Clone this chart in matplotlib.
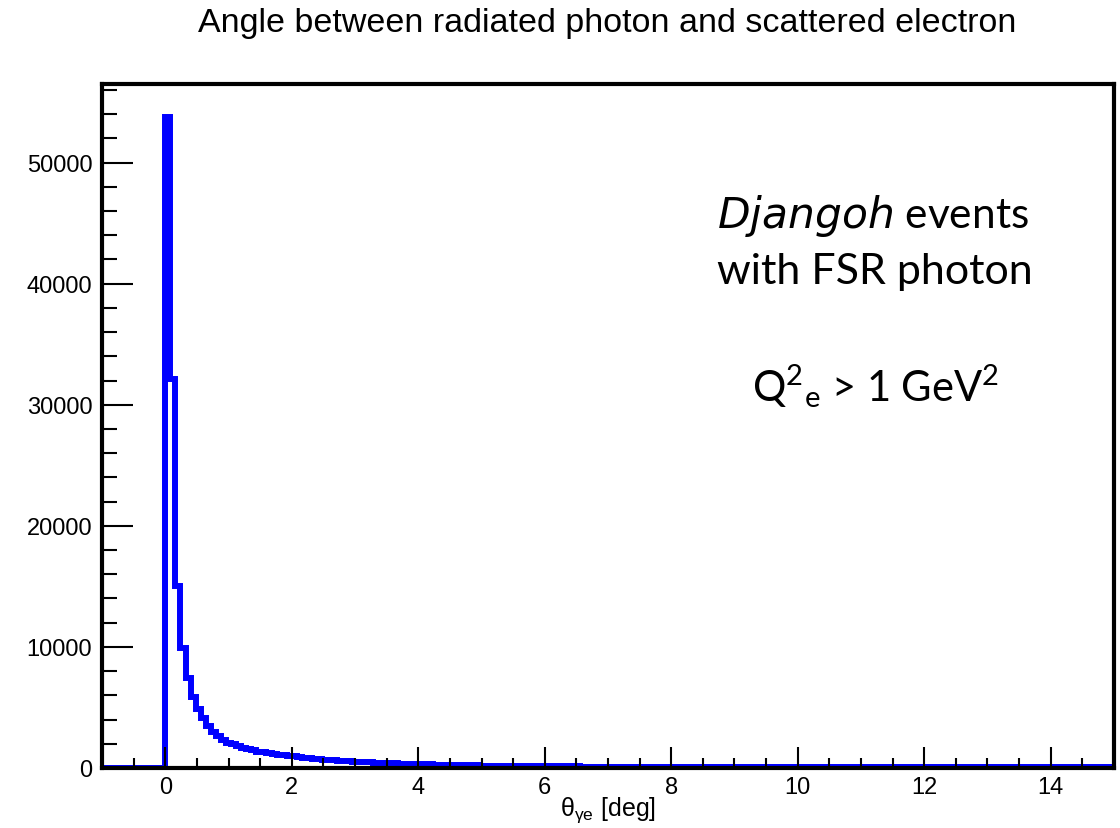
import matplotlib
matplotlib.use('Agg')
import matplotlib.pyplot as plt
import numpy as np
from matplotlib.ticker import MultipleLocator

# bin contents, 0.08 deg wide bins starting at 0
bin_width = 0.08
counts = [
    53800, 32100, 15000, 9950, 7400, 5900, 4850, 4100, 3500, 3000,
    2650, 2350, 2100, 1950, 1800, 1680, 1560, 1450, 1360, 1280,
    1210, 1150, 1100, 1050, 1010,
    960, 910, 860, 815, 775, 735, 700, 665, 630, 600, 570, 545, 520,
    500, 480, 460, 440, 420, 405, 390, 375, 360, 345, 330, 320,
    310, 300, 290, 280, 270, 260, 250, 240, 232, 225, 218, 210, 204,
    198, 192, 186, 180, 175, 170, 165, 160, 156, 152, 148, 144, 140,
    137, 134, 131, 128, 126, 123, 120, 118, 115, 113, 111, 109,
    107, 105, 103, 101, 99, 97, 95, 94, 92, 91, 89, 88, 86,
    85, 84, 83, 82, 81, 80, 79, 78, 77, 76,
    75, 75, 74, 73, 72, 72, 71, 70, 70, 69,
    68, 68, 67, 66, 66, 65, 65, 64, 64, 63,
    63, 62, 62, 61, 61, 60, 60, 60, 59, 59,
    58, 58, 58, 57, 57, 57, 56, 56, 56, 55,
    55, 55, 54, 54, 54, 54, 53, 53, 53, 52,
    52, 52, 52, 51, 51, 51, 51, 50, 50, 50,
    50, 49, 49, 49, 49, 48, 48, 48, 48, 48,
    47, 47, 47, 47, 46, 46, 46,
]

title = 'Angle between radiated photon and scattered electron'
xlabel = r'$\mathregular{θ_{γe}}$ [deg]'

# empty region below zero, then the filled bins
edges = np.concatenate([[-1.0], np.arange(len(counts) + 1) * bin_width])
values = np.concatenate([[0], counts])

fig = plt.figure(figsize=(11.2, 8.29), dpi=100)
ax = fig.add_axes([0.0911, 0.0724, 0.9035, 0.8251])

ax.stairs(values, edges, baseline=None, color='#0000ff', linewidth=4.3)

ax.set_xlim(-1, 15)
ax.set_ylim(0, 1.05 * max(counts))

ax.xaxis.set_major_locator(MultipleLocator(2))
ax.xaxis.set_minor_locator(MultipleLocator(0.5))
ax.yaxis.set_major_locator(MultipleLocator(10000))
ax.yaxis.set_minor_locator(MultipleLocator(2000))

ax.tick_params(axis='both', which='both', direction='in', color='black',
               width=1.5, top=False, right=False)
ax.tick_params(axis='y', which='major', length=22, pad=7, labelsize=17)
ax.tick_params(axis='y', which='minor', length=11)
ax.tick_params(axis='x', which='major', length=15, pad=6, labelsize=17)
ax.tick_params(axis='x', which='minor', length=7.5)
for lab in ax.get_xticklabels() + ax.get_yticklabels():
    lab.set_fontfamily('Liberation Sans')

for sp in ax.spines.values():
    sp.set_linewidth(3)
    sp.set_color('black')

ax.set_xlabel(xlabel, fontsize=18, family='Liberation Sans', labelpad=0)
ax.xaxis.set_label_coords(0.5, -0.039)

fig.text(0.5424, 0.972, title, ha='center', va='center',
         fontsize=24.5, family='Liberation Sans')

ax.text(0.762, 0.8085, r'$\mathregular{\mathit{Djangoh}}$ events',
        transform=ax.transAxes, ha='center', va='center',
        fontsize=30.5, family='Lato')
ax.text(0.764, 0.7265, 'with FSR photon', transform=ax.transAxes,
        ha='center', va='center', fontsize=31, family='Lato')
ax.text(0.764, 0.559, r'$\mathregular{Q^{2}{}_{e}}$ > 1 GeV$\mathregular{^{2}}$',
        transform=ax.transAxes, ha='center', va='center',
        fontsize=30, family='Lato')

fig.savefig('out.png', dpi=100)
